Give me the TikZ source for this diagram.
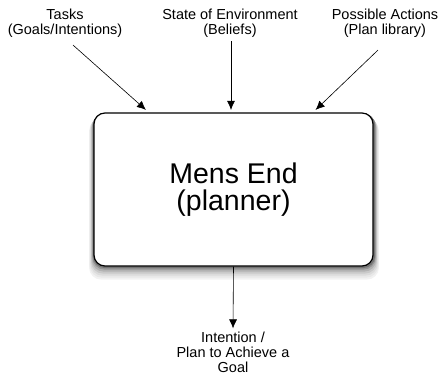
\documentclass[tikz,border=0pt]{standalone}
\usepackage{fontspec}
\setmainfont{Liberation Sans}
\usetikzlibrary{arrows.meta, backgrounds}

\tikzset{
  label text/.style={align=center, inner sep=2pt, font=\fontsize{14.5}{15}\selectfont},
  planner box/.style={draw, line width=1.2pt, fill=white, rounded corners=11pt,
    minimum width=279pt, minimum height=153pt, align=center,
    font=\fontsize{28.5}{27}\selectfont}
}

\begin{document}
\begin{tikzpicture}[x=1pt,y=-1pt,->,>={Latex[length=9pt,width=8pt]},semithick]
                    \useasboundingbox (0,0) rectangle (439,378);
                    \node[planner box] (planner) at (233.5,189.5) {Mens End\\(planner)};
                    \node[label text] (tasks) at (65,23.5) {Tasks\\(Goals/Intentions)};
                    \node[label text] (state) at (230,23.5) {State of Environment\\(Beliefs)};
                    \node[label text] (actions) at (385,23.5) {Possible Actions\\(Plan library)};
                    \node[label text] (plan) at (233,352) {Intention /\\Plan to Achieve a\\Goal};

                    % soft shadow under the planner box
                    \begin{scope}[on background layer]
                      \foreach \d/\c in {13/5, 11/9, 9/14, 7/21, 5/30, 3/42, 1.5/55}
                        \fill[black!\c, rounded corners=12pt] ([shift={(-\d/3,\d)}]planner.south west) rectangle ([shift={(\d/3+1,\d/2)}]planner.north east);
                    \end{scope}

                    \draw ([xshift=8pt,yshift=-5pt]tasks.south) -- ([xshift=52.5pt,yshift=2.5pt]planner.north west);
                    \draw ([xshift=1pt,yshift=-1pt]state.south) -- ([xshift=-2.5pt,yshift=2.5pt]planner.north);
                    \draw ([xshift=-7pt,yshift=-10pt]actions.south) -- ([xshift=-58pt,yshift=2.5pt]planner.north east);
                    \draw (planner.south) -- ([yshift=1pt]plan.north);
                \end{tikzpicture}
\end{document}
